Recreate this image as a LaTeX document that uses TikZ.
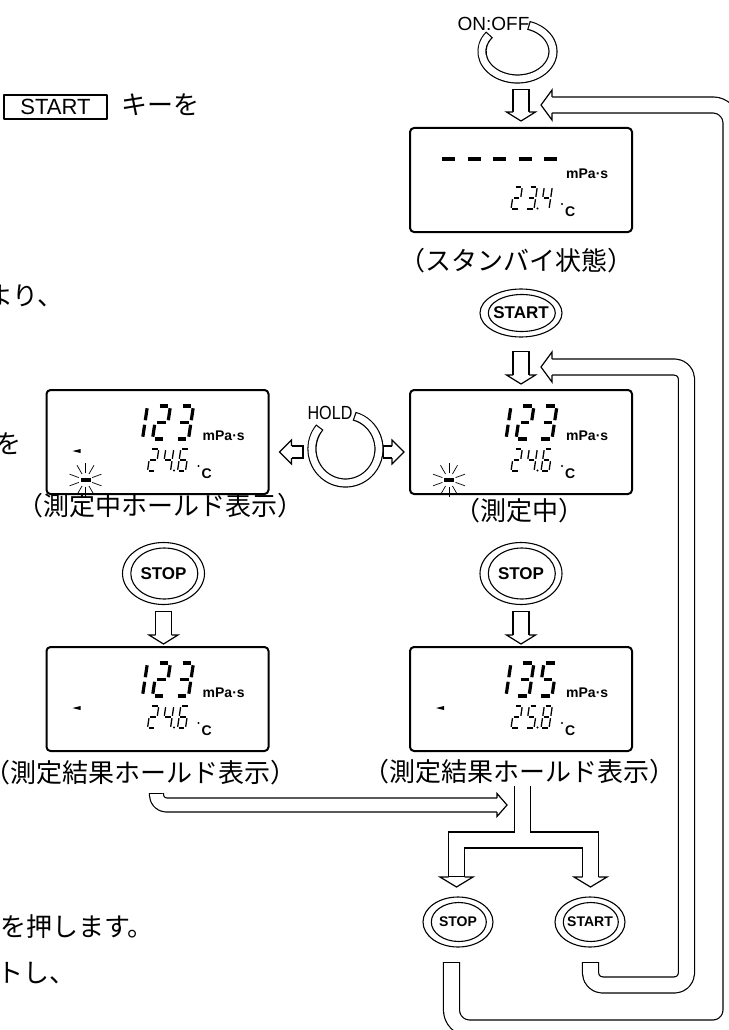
\documentclass[tikz,border=0pt]{standalone}
\usepackage{fontspec}
\usepackage{graphicx}
\newfontfamily\lbl{Liberation Sans}
\newfontfamily\jp{Noto Sans CJK JP}
\usetikzlibrary{positioning,calc}

% one segment of a seven-segment digit (origin = bottom left)
\newcommand{\lcdseg}[1]{%
  \if#1a\draw ({\segg},{-\segh}) -- ({\segw-\segg},{-\segh});\fi
  \if#1b\draw ({\segw},{-\segh+\segg}) -- ({\segw},{-\segh/2-\segg});\fi
  \if#1c\draw ({\segw},{-\segh/2+\segg}) -- ({\segw},{-\segg});\fi
  \if#1d\draw ({\segg},0) -- ({\segw-\segg},0);\fi
  \if#1e\draw (0,{-\segh/2+\segg}) -- (0,{-\segg});\fi
  \if#1f\draw (0,{-\segh+\segg}) -- (0,{-\segh/2-\segg});\fi
  \if#1g\draw ({\segg},{-\segh/2}) -- ({\segw-\segg},{-\segh/2});\fi}
% #1 bottom left, #2 width, #3 height, #4 stroke, #5 segments
\newcommand{\lcddigit}[5]{%
  \begin{scope}[shift={#1}, xslant=0.15, line width=#4pt]
    \def\segw{#2}\def\segh{#3}\pgfmathsetmacro\segg{0.55*#4+0.5}
    \foreach \sgm in {#5}{\lcdseg{\sgm}}
  \end{scope}}
\newcommand{\bigreading}[4]{%
  \begin{scope}[shift={(#1.north west)}]
    \lcddigit{(84,50)}{13}{33}{3.2}{#2}
    \lcddigit{(107,50)}{13}{33}{3.2}{#3}
    \lcddigit{(130,50)}{13}{33}{3.2}{#4}
    \node[unitlbl] at (157,51) {mPa·s};
  \end{scope}}
\newcommand{\tempreading}[4]{%
  \begin{scope}[shift={(#1.north west)}]
    \lcddigit{(102,82)}{8}{22}{1.3}{#2}
    \lcddigit{(117,82)}{8}{22}{1.3}{#3}
    \lcddigit{(132,82)}{8}{22}{1.3}{#4}
    \fill (128.5,81.5) circle (1.1);
    \fill (153,77) circle (1.2);
    \node[unitlbl] at (156,89) {C};
  \end{scope}}
\newcommand{\lcdflag}[1]{\fill ($(#1.north west)+(27,62)$) -- ++(8,-2) -- ++(0,4) -- cycle;}
\newcommand{\lcdblink}[1]{%
  \begin{scope}[shift={($(#1.north west)+(40,91)$)}]
    \fill (-5,-1.6) rectangle (5,1.6);
    \foreach \a in {20,-20,160,200,60,90,120,-60,-90,-120}
      \draw[line width=0.7pt] (\a:7) -- (\a:17);
  \end{scope}}
% key with a double ring
\newcommand{\keyring}[3]{%
  \draw[line width=1.1pt] (#1.center) ellipse [x radius=#2, y radius=#3];
  \draw[line width=1.1pt] ([xshift=0.8pt]#1.center) ellipse [x radius=#2-7.5, y radius=#3-5.5];}
% hollow band: #1 keys, #2 width, #3 path
\tikzset{capstart/.style={}, capend/.style={}}
\newcommand{\band}[3][]{%
  \pgfmathsetmacro\bandout{#2+1.2}\pgfmathsetmacro\bandin{#2-1.2}%
  \draw[line width=\bandout pt, line cap=butt, #1] #3;
  \draw[white, line width=\bandin pt, line cap=butt,
    capstart/.style={shorten <=1.2pt}, capend/.style={shorten >=1.2pt}, #1] #3;}
\tikzset{pics/bhead/.style args={#1/#2/#3}{code={%
  \fill[white] (0,0) -- (-#1,-#2) -- (-#1,#2) -- cycle;
  \draw[line width=1.2pt, line join=miter] (-#1,-#3) -- (-#1,-#2) -- (0,0) -- (-#1,#2) -- (-#1,#3);}}}

\begin{document}
\begin{tikzpicture}[x=1pt, y=-1pt, line join=round]
  \tikzstyle{lcdbox}=[draw, line width=2pt, rounded corners=4pt, minimum width=222pt, minimum height=104pt, inner sep=0pt]
  \tikzstyle{capt}=[inner sep=0pt, font=\jp\fontsize{26}{26}\selectfont]
  \tikzstyle{bodytxt}=[inner sep=0pt, anchor=base west, font=\jp\fontsize{26}{26}\selectfont]
  \tikzstyle{keylbl}=[inner sep=0pt, font=\lbl\bfseries\fontsize{17}{17}\selectfont]
  \tikzstyle{smallkey}=[inner sep=0pt, font=\lbl\bfseries\fontsize{14}{14}\selectfont]
  \tikzstyle{unitlbl}=[inner sep=0pt, anchor=base west, font=\lbl\bfseries\fontsize{14}{14}\selectfont]
  \tikzstyle{looplbl}=[inner sep=0pt, font=\lbl\fontsize{19}{19}\selectfont]
  \fill[white] (0,0) rectangle (728,1030);
  \useasboundingbox (0,0) rectangle (728,1030);

  % text cut by the page edge
  \node[draw, line width=1.8pt, inner sep=0pt, minimum width=103pt, minimum height=24pt, font=\lbl\fontsize{22}{22}\selectfont] (startkey) at (55.5,107) {START};
  \node[bodytxt] (keytxt) at (121,114) {キーを};
  \node[bodytxt] (line2) at (-13,305) {より、};
  \node[bodytxt] (line3) at (-5,453) {を};
  \node[bodytxt] (line4) at (0,936) {を押します。};
  \node[bodytxt] (line5) at (-3,982) {トし、};

  % displays
  \node[lcdbox] (standby) at (521,180) {};
  \node[lcdbox] (meas) at (521,442) {};
  \node[lcdbox] (hold) at (157.5,442) {};
  \node[lcdbox] (resL) at (157.5,699) {};
  \node[lcdbox] (resR) at (521,699) {};

  \begin{scope}[shift={(standby.north west)}]
    \foreach \i in {0,...,4} \draw[line width=4pt] ({33+25.5*\i},32) -- ++(13,0);
    \node[unitlbl] at (157,51) {mPa·s};
  \end{scope}
  \tempreading{standby}{a,b,g,e,d}{a,b,g,c,d}{f,g,b,c}
  \bigreading{meas}{b,c}{a,b,g,e,d}{a,b,g,c,d}
  \tempreading{meas}{a,b,g,e,d}{f,g,b,c}{a,f,g,e,d,c}
  \bigreading{hold}{b,c}{a,b,g,e,d}{a,b,g,c,d}
  \tempreading{hold}{a,b,g,e,d}{f,g,b,c}{a,f,g,e,d,c}
  \bigreading{resL}{b,c}{a,b,g,e,d}{a,b,g,c,d}
  \tempreading{resL}{a,b,g,e,d}{f,g,b,c}{a,f,g,e,d,c}
  \bigreading{resR}{b,c}{a,b,g,c,d}{a,f,g,c,d}
  \tempreading{resR}{a,b,g,e,d}{a,f,g,c,d}{a,b,c,d,e,f,g}
  \lcdflag{hold}
  \lcdflag{resL}
  \lcdflag{resR}
  \lcdblink{hold}
  \lcdblink{meas}

  % captions
  \node[capt] (capStandby) at (516,261) {（スタンバイ状態）};
  \node[capt] (capMeas) at (519.5,511) {（測定中）};
  \node[capt] (capHold) at (160,506) {（測定中ホールド表示）};
  \node[capt] (capResL) at (140,773) {（測定結果ホールド表示）};
  \node[capt] (capResR) at (519,772) {（測定結果ホールド表示）};

  % keys
  \node[keylbl] (startA) at (521,313) {START};
  \node[keylbl] (stopR) at (521,573.5) {STOP};
  \node[keylbl] (stopL) at (163.5,573.5) {STOP};
  \node[smallkey] (stopB) at (458,922) {STOP};
  \node[smallkey] (startB) at (590,922) {START};
  \keyring{startA}{41}{24}
  \keyring{stopR}{41}{31}
  \keyring{stopL}{41}{31}
  \keyring{stopB}{35}{25}
  \keyring{startB}{35}{25}

  % ON:OFF and HOLD rings
  \node[looplbl] (onofftxt) at (493.5,23.5) {ON:OFF};
  \coordinate (onoffc) at (517.5,51.5);
  \band[capstart, capend]{8}{($(onoffc)+(218:35.5 and 27.5)$) arc[start angle=218, end angle=-72, x radius=35.5, y radius=27.5]}
  \node[looplbl] (holdtxt) at (330,412.5) {\scalebox{0.85}[1]{HOLD}};
  \coordinate (holdc) at (345.5,449);
  \band[capstart, capend]{8}{($(holdc)+(220:33.5 and 34)$) arc[start angle=220, end angle=-75, x radius=33.5, y radius=34]}

  % down arrows
  \coordinate (tipA) at ($(standby.north)+(0,-6)$);
  \band[capstart]{16}{($(tipA)+(0,-32)$) -- ($(tipA)+(0,-9)$)}
  \pic[rotate=-90] at (tipA) {bhead=9/14.5/8};
  \coordinate (tipB) at ($(meas.north)+(0,-5)$);
  \band[capstart]{16}{($(tipB)+(0,-33)$) -- ($(tipB)+(0,-9)$)}
  \pic[rotate=-90] at (tipB) {bhead=9/14.5/8};
  \coordinate (tipC) at ($(resR.north)+(0,-2)$);
  \band[capstart]{16}{($(tipC)+(0,-33)$) -- ($(tipC)+(0,-9)$)}
  \pic[rotate=-90] at (tipC) {bhead=9/14.5/8};
  \coordinate (tipD) at ($(stopL |- resL.north)+(0,-2)$);
  \band[capstart]{16}{($(tipD)+(0,-33)$) -- ($(tipD)+(0,-9)$)}
  \pic[rotate=-90] at (tipD) {bhead=9/14.5/8};

  % HOLD arrows
  \coordinate (tipE) at ($(hold.east)+(10,10)$);
  \band[capstart]{12}{($(tipE)+(24,0)$) -- ($(tipE)+(12,0)$)}
  \pic[rotate=180] at (tipE) {bhead=12/12/6};
  \coordinate (tipF) at ($(meas.west)+(-5,10)$);
  \band[capstart]{12}{($(tipF)+(-21,0)$) -- ($(tipF)+(-12,0)$)}
  \pic at (tipF) {bhead=12/12/6};

  % result hold -> split
  \coordinate (tipK) at (507,805);
  \band[rounded corners=10pt, capstart]{14}{(156.5,793) -- (156.5,805) -- ($(tipK)+(-10,0)$)}
  \pic at (tipK) {bhead=10/11.5/7};
  \coordinate (tipL) at (456.5,887);
  \coordinate (tipM) at (590.5,887);
  \band[line join=miter, capstart]{16}{(522.5,786) -- (522.5,840) ($(tipL)+(0,-10)$) -- (456.5,840) -- (590.5,840) -- ($(tipM)+(0,-10)$)}
  \pic[rotate=-90] at (tipL) {bhead=10/16.5/8};
  \pic[rotate=-90] at (tipM) {bhead=10/16.5/8};

  % return loops
  \coordinate (tipG) at (541,105);
  \band[rounded corners=18pt, capstart]{16}{(451.5,962) -- (451.5,1028) -- (731,1028) -- (731,105) -- ($(tipG)+(11,0)$)}
  \pic[rotate=180] at (tipG) {bhead=11/15/8};
  \coordinate (tipH) at (541,367);
  \band[rounded corners=12pt, capstart]{16}{(590.5,962) -- (590.5,985) -- (686.5,985) -- (686.5,367) -- ($(tipH)+(11,0)$)}
  \pic[rotate=180] at (tipH) {bhead=11/15/8};
\end{tikzpicture}
\end{document}
